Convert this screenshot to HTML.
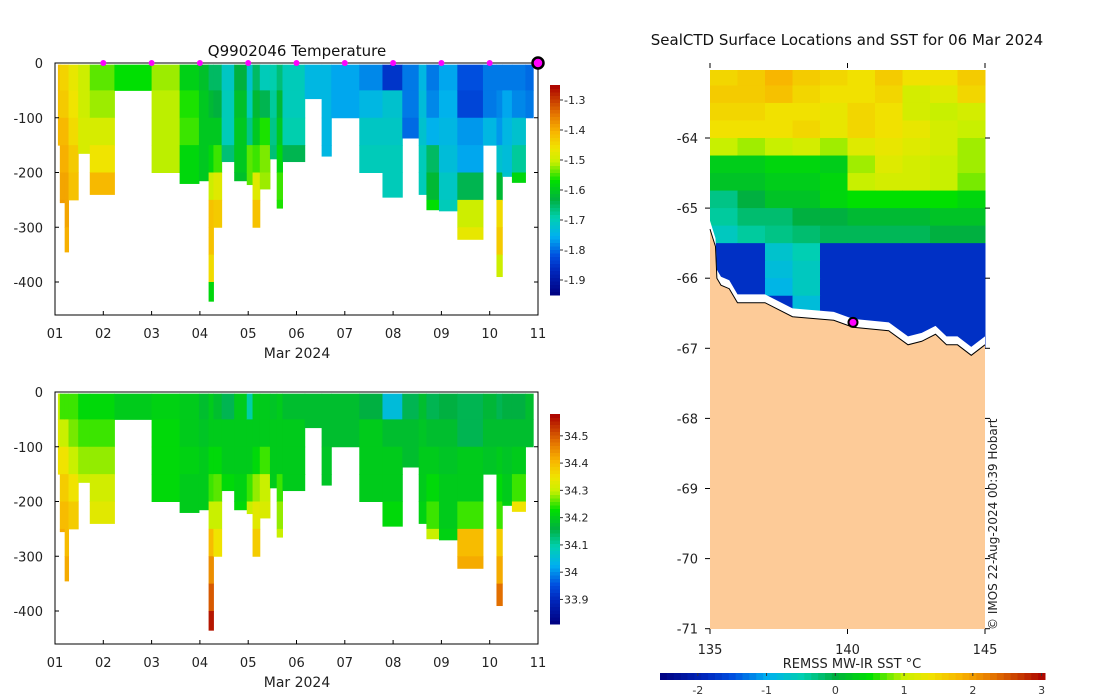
<!DOCTYPE html>
<html><head><meta charset="utf-8"><style>
body{margin:0;background:#fff}
svg{display:block;font-family:"DejaVu Sans","Liberation Sans",sans-serif}
</style></head><body>
<svg id="fig" width="1100" height="700" viewBox="0 0 1100 700" xmlns="http://www.w3.org/2000/svg">
<rect width="1100" height="700" fill="#fff"/>
<g id="topPanel"></g>
<g id="botPanel"></g>
<g id="mapPanel"></g>
</svg>
<script>
// ---- profile data ----
const pStart=[1.06,1.10,1.20,1.28,1.48,1.72,2.23,3.0,3.58,3.98,4.18,4.28,4.45,4.71,4.97,5.09,5.24,5.45,5.59,5.71,6.17,6.52,6.72,7.30,7.78,8.19,8.53,8.69,8.95,9.33,9.86,10.14,10.26,10.46,10.74];
const pEnd=[1.12,1.20,1.28,1.48,1.72,2.23,3.0,3.58,3.98,4.18,4.28,4.45,4.71,4.97,5.09,5.24,5.45,5.59,5.71,6.17,6.52,6.72,7.30,7.78,8.19,8.53,8.69,8.95,9.33,9.86,10.14,10.26,10.46,10.74,10.90];
const pDepth=[150,255,345,250,165,240,50,200,220,215,435,300,180,215,222,300,230,175,265,180,65,170,100,200,245,137,240,268,270,322,150,390,207,218,100];
const pTemp=[
[-1.42,-1.42,-1.41],
[-1.44,-1.43,-1.41,-1.40,-1.39,-1.38],
[-1.44,-1.43,-1.41,-1.40,-1.39,-1.39,-1.40],
[-1.47,-1.46,-1.45,-1.43,-1.42,-1.41],
[-1.50,-1.50,-1.49,-1.49],
[-1.54,-1.52,-1.49,-1.46,-1.41],
[-1.57,-1.53],
[-1.52,-1.51,-1.51,-1.51,-1.51],
[-1.59,-1.56,-1.55,-1.58,-1.58],
[-1.61,-1.60,-1.60,-1.60,-1.60],
[-1.65,-1.62,-1.60,-1.58,-1.50,-1.42,-1.42,-1.45,-1.58],
[-1.65,-1.63,-1.60,-1.55,-1.48,-1.43],
[-1.71,-1.70,-1.70,-1.66],
[-1.63,-1.61,-1.60,-1.60,-1.61],
[-1.72,-1.70,-1.67,-1.54,-1.54],
[-1.65,-1.62,-1.60,-1.55,-1.48,-1.42],
[-1.70,-1.64,-1.56,-1.53,-1.52],
[-1.69,-1.68,-1.67,-1.66],
[-1.66,-1.62,-1.60,-1.58,-1.55,-1.56],
[-1.70,-1.70,-1.69,-1.64],
[-1.74,-1.74],
[-1.74,-1.74,-1.74,-1.74],
[-1.76,-1.76],
[-1.78,-1.74,-1.71,-1.70],
[-1.85,-1.72,-1.71,-1.70,-1.70],
[-1.79,-1.79,-1.80],
[-1.74,-1.73,-1.72,-1.70,-1.70],
[-1.79,-1.78,-1.75,-1.65,-1.62,-1.57],
[-1.76,-1.75,-1.74,-1.73,-1.71,-1.70],
[-1.82,-1.83,-1.77,-1.76,-1.64,-1.50,-1.47],
[-1.79,-1.79,-1.74],
[-1.79,-1.78,-1.77,-1.72,-1.62,-1.45,-1.43,-1.50],
[-1.79,-1.76,-1.74,-1.73,-1.72],
[-1.79,-1.78,-1.72,-1.68,-1.58],
[-1.80,-1.79]];
const pSal=[
[34.30,34.33,34.35],
[34.25,34.30,34.35,34.38,34.40,34.42],
[34.25,34.30,34.35,34.38,34.40,34.40,34.42],
[34.25,34.27,34.30,34.35,34.38,34.40],
[34.22,34.25,34.28,34.30],
[34.22,34.25,34.28,34.31,34.33],
[34.20,34.22],
[34.21,34.22,34.22,34.22,34.23],
[34.20,34.20,34.21,34.20,34.20],
[34.18,34.19,34.20,34.20,34.20],
[34.20,34.20,34.22,34.25,34.30,34.40,34.45,34.50,34.56],
[34.18,34.20,34.22,34.26,34.30,34.35],
[34.15,34.20,34.20,34.22],
[34.20,34.20,34.20,34.21,34.22],
[34.10,34.20,34.20,34.25,34.30],
[34.20,34.20,34.22,34.28,34.33,34.38],
[34.20,34.20,34.25,34.30,34.32],
[34.19,34.20,34.20,34.20],
[34.20,34.20,34.20,34.25,34.28,34.30],
[34.18,34.20,34.20,34.20],
[34.18,34.18],
[34.18,34.18,34.19,34.19],
[34.18,34.18],
[34.16,34.20,34.20,34.20],
[34.05,34.18,34.20,34.20,34.22],
[34.15,34.18,34.18],
[34.18,34.19,34.20,34.20,34.21],
[34.15,34.18,34.20,34.22,34.25,34.30],
[34.16,34.18,34.19,34.20,34.20,34.21],
[34.15,34.15,34.20,34.20,34.25,34.40,34.42],
[34.17,34.18,34.19],
[34.15,34.18,34.20,34.22,34.25,34.38,34.42,34.48],
[34.16,34.18,34.19,34.20,34.21],
[34.16,34.18,34.20,34.25,34.35],
[34.18,34.18]];
const dayTicks=['01','02','03','04','05','06','07','08','09','10','11'];
const depthTicks=[0,-100,-200,-300,-400];
const tempTicks=[-1.3,-1.4,-1.5,-1.6,-1.7,-1.8,-1.9];
const salTicks=[34.5,34.4,34.3,34.2,34.1,34,33.9];
const surfaceDays=[2,3,4,5,6,7,8,9,10];
// ---- SST map data ----
const sstRows=[
[1.5,1.6,1.8,1.6,1.5,1.4,1.6,1.4,1.4,1.6],
[1.6,1.6,1.7,1.5,1.4,1.4,1.5,1.1,1.2,1.5],
[1.5,1.5,1.4,1.4,1.3,1.5,1.4,1.1,1.0,1.1],
[1.4,1.4,1.4,1.5,1.3,1.5,1.4,1.3,1.1,1.0],
[1.0,0.9,1.0,1.1,0.9,1.2,1.3,1.2,1.1,0.9],
[0.3,0.3,0.4,0.4,0.3,0.9,1.2,1.1,1.0,0.9],
[0.2,0.2,0.3,0.3,0.4,1.0,1.1,1.1,1.0,0.8],
[-0.3,0.0,0.2,0.2,0.4,0.5,0.5,0.5,0.5,0.4],
[-0.4,-0.2,-0.2,0.0,0.0,0.1,0.1,0.1,0.2,0.2],
[-0.6,-0.4,-0.3,-0.2,-0.1,-0.1,-0.1,-0.1,0.0,0.0],
[-1.8,-1.8,-0.7,-0.5,-1.8,-1.8,-1.8,-1.8,-1.8,-1.8],
[-1.8,-1.8,-0.8,-0.6,-1.8,-1.8,-1.8,-1.8,-1.8,-1.8],
[-1.8,-1.8,-0.9,-0.6,-1.8,-1.8,-1.8,-1.8,-1.8,-1.8],
[-1.8,-1.8,-1.8,-0.8,-1.8,-1.8,-1.8,-1.8,-1.8,-1.8],
[-1.8,-1.8,-1.8,-1.8,-1.8,-1.8,-1.8,-1.8,-1.8,-1.8],
[-1.8,-1.8,-1.8,-1.8,-1.8,-1.8,-1.8,-1.8,-1.8,-1.8]];
const coastLon=[135,135.2,135.25,135.4,135.7,136,137,138,139.5,140.2,141.5,142.2,142.7,143.2,143.6,144,144.5,145];
const coastLat=[-65.3,-65.55,-66,-66.1,-66.15,-66.35,-66.35,-66.55,-66.6,-66.7,-66.75,-66.95,-66.9,-66.8,-66.95,-66.95,-67.1,-66.95];
const lonTicks=[135,140,145];
const latTicks=[-64,-65,-66,-67,-68,-69,-70,-71];
const sstTicks=[-2,-1,0,1,2,3];

const NS='http://www.w3.org/2000/svg';
function mk(p,t,a){const e=document.createElementNS(NS,t);for(const k in a)e.setAttribute(k,a[k]);p.appendChild(e);return e;}
const stops=[[0,[0,0,128]],[0.12,[0,40,190]],[0.19,[0,80,224]],[0.28,[0,176,240]],[0.37,[0,208,176]],[0.455,[0,176,64]],[0.545,[0,224,0]],[0.634,[200,240,0]],[0.70,[240,228,0]],[0.78,[248,180,0]],[0.86,[230,120,0]],[1,[170,0,0]]];
function cmap(f){f=Math.max(0,Math.min(1,f));for(let i=1;i<stops.length;i++){if(f<=stops[i][0]){const a=stops[i-1],b=stops[i];const t=(f-a[0])/(b[0]-a[0]);const c=a[1].map((v,j)=>Math.round(v+(b[1][j]-v)*t));return'rgb('+c.join(',')+')';}}return'rgb(170,0,0)';}

function panel(g,y0,vals,vmin,vmax,ticks,title){
  const x0=55,x1=538,yb=y0+252;
  const xS=d=>x0+(d-1)*(x1-x0)/10, yS=z=>y0+(-z)*219/400;
  const cb={x:550,w:10,top:y0+22,bot:y0+232};
  const cS=v=>cb.bot-(v-vmin)/(vmax-vmin)*(cb.bot-cb.top);
  for(let i=0;i<pStart.length;i++){
    const arr=vals[i];
    for(let k=0;k<arr.length;k++){
      const z0=k===0?3:k*50, z1=Math.min((k+1)*50,pDepth[i]);
      if(z1<=z0)continue;
      const r=mk(g,'rect',{x:xS(pStart[i]),y:yS(-z0),width:xS(pEnd[i])-xS(pStart[i])+0.5,height:yS(-z1)-yS(-z0)+0.5,fill:cmap((arr[k]-vmin)/(vmax-vmin))});
      
      
    }
  }
  mk(g,'rect',{x:x0,y:y0,width:x1-x0,height:yb-y0,fill:'none',stroke:'#000','stroke-width':1});
  dayTicks.forEach((t,i)=>{const x=xS(i+1);mk(g,'line',{x1:x,x2:x,y1:yb,y2:yb-4,stroke:'#000'});
    const tx=mk(g,'text',{x:x,y:yb+23,'text-anchor':'middle','font-size':13,fill:'#222'});tx.textContent=t;
    
    });
  depthTicks.forEach(d=>{const y=yS(d);mk(g,'line',{x1:x0,x2:x0+4,y1:y,y2:y,stroke:'#000'});mk(g,'line',{x1:x1,x2:x1-4,y1:y,y2:y,stroke:'#000'});
    const tx=mk(g,'text',{x:x0-12,y:y+5,'text-anchor':'end','font-size':13,fill:'#222'});tx.textContent=d;
    
    });
  const xl=mk(g,'text',{x:297,y:yb+43,'text-anchor':'middle','font-size':14,fill:'#222'});xl.textContent='Mar 2024';
  
  
  if(title){const tt=mk(g,'text',{x:297,y:y0-7,'text-anchor':'middle','font-size':15,fill:'#111'});tt.textContent=title;
    
    }
  for(let j=0;j<60;j++){const v0=vmin+(vmax-vmin)*j/60,v1=vmin+(vmax-vmin)*(j+1)/60;
    mk(g,'rect',{x:cb.x,y:cS(v1),width:cb.w,height:cS(v0)-cS(v1)+0.5,fill:cmap((j+0.5)/60)});}
  ticks.forEach(v=>{const y=cS(v);mk(g,'line',{x1:cb.x+cb.w,x2:cb.x+cb.w+3,y1:y,y2:y,stroke:'#333'});
    const tx=mk(g,'text',{x:cb.x+cb.w+4,y:y+4,'font-size':11,fill:'#222'});tx.textContent=v;
    
    });
  return {xS,yS};
}
const topG=document.getElementById('topPanel');
const ax=panel(topG,63,pTemp,-1.95,-1.25,tempTicks,'Q9902046  Temperature');
panel(document.getElementById('botPanel'),392,pSal,33.81,34.58,salTicks,null);
surfaceDays.forEach(d=>{const c=mk(topG,'circle',{cx:ax.xS(d),cy:63,r:3,fill:'#ff00ff'});
  
  });
const cl=mk(topG,'circle',{cx:ax.xS(11),cy:63,r:5.5,fill:'#ff00ff',stroke:'#000','stroke-width':2.5});



// ---- map ----
const mg=document.getElementById('mapPanel');
const lx=l=>710+(l-135)*27.5, ly=l=>138+(-64-l)*70.1;
mk(mg,'rect',{x:710,y:70,width:275,height:559,fill:'#fdcb98'});
sstRows.forEach((row,r)=>row.forEach((v,c)=>{
  const la0=-63.0-r*0.25;const y0=Math.max(70,ly(la0));
  const cell=mk(mg,'rect',{x:lx(135+c),y:y0,width:28,height:ly(la0-0.25)-y0+0.5,fill:cmap((v+2.55)/5.6)});
  
  
}));
let gap='',land='';
coastLon.forEach((l,i)=>{gap+=(i?'L':'M')+lx(l)+','+ly(coastLat[i]+0.12);land+=(i?'L':'M')+lx(l)+','+ly(coastLat[i]);});
let gapPath=gap;
for(let j=coastLon.length-1;j>=0;j--){gapPath+='L'+lx(coastLon[j])+','+ly(coastLat[j]);}
const gp=mk(mg,'path',{d:gapPath+'Z',fill:'#fff'});


const lp=mk(mg,'path',{d:land+'L985,629L710,629Z',fill:'#fdcb98'});


const cp=mk(mg,'path',{d:land,fill:'none',stroke:'#000','stroke-width':1});


const st=mk(mg,'circle',{cx:lx(140.2),cy:ly(-66.63),r:4.5,fill:'#ff00ff',stroke:'#000','stroke-width':2});


lonTicks.forEach(l=>{const x=lx(l);mk(mg,'line',{x1:x,x2:x,y1:629,y2:634,stroke:'#000'});mk(mg,'line',{x1:x,x2:x,y1:63,y2:68,stroke:'#000'});
  const t=mk(mg,'text',{x:x,y:654,'text-anchor':'middle','font-size':13,fill:'#222'});t.textContent=l;
  
  });
latTicks.forEach(l=>{const y=ly(l);mk(mg,'line',{x1:705,x2:710,y1:y,y2:y,stroke:'#000'});mk(mg,'line',{x1:985,x2:990,y1:y,y2:y,stroke:'#000'});
  const t=mk(mg,'text',{x:698,y:y+5,'text-anchor':'end','font-size':13,fill:'#222'});t.textContent=l;
  
  });
const mt=mk(mg,'text',{x:847,y:45,'text-anchor':'middle','font-size':15,fill:'#111'});mt.textContent='SealCTD Surface Locations and SST for 06 Mar 2024';


const cr=mk(mg,'text',{x:0,y:0,transform:'translate(997,630) rotate(-90)','font-size':12,fill:'#222'});cr.textContent='© IMOS 22-Aug-2024 00:39 Hobart';


const sx=v=>660+(v+2.55)*(385/5.6);
for(let j=0;j<56;j++){const v0=-2.55+j*0.1;mk(mg,'rect',{x:sx(v0),y:673,width:385/56+0.5,height:7,fill:cmap((j+0.5)/56)});}
sstTicks.forEach(v=>{const x=sx(v);mk(mg,'line',{x1:x,x2:x,y1:673,y2:676,stroke:'#333'});
  const t=mk(mg,'text',{x:x,y:694,'text-anchor':'middle','font-size':11,fill:'#333'});t.textContent=v;
  
  });
const cbl=mk(mg,'text',{x:852,y:668,'text-anchor':'middle','font-size':13,fill:'#222'});cbl.textContent='REMSS MW-IR SST °C';


</script>
</body></html>
